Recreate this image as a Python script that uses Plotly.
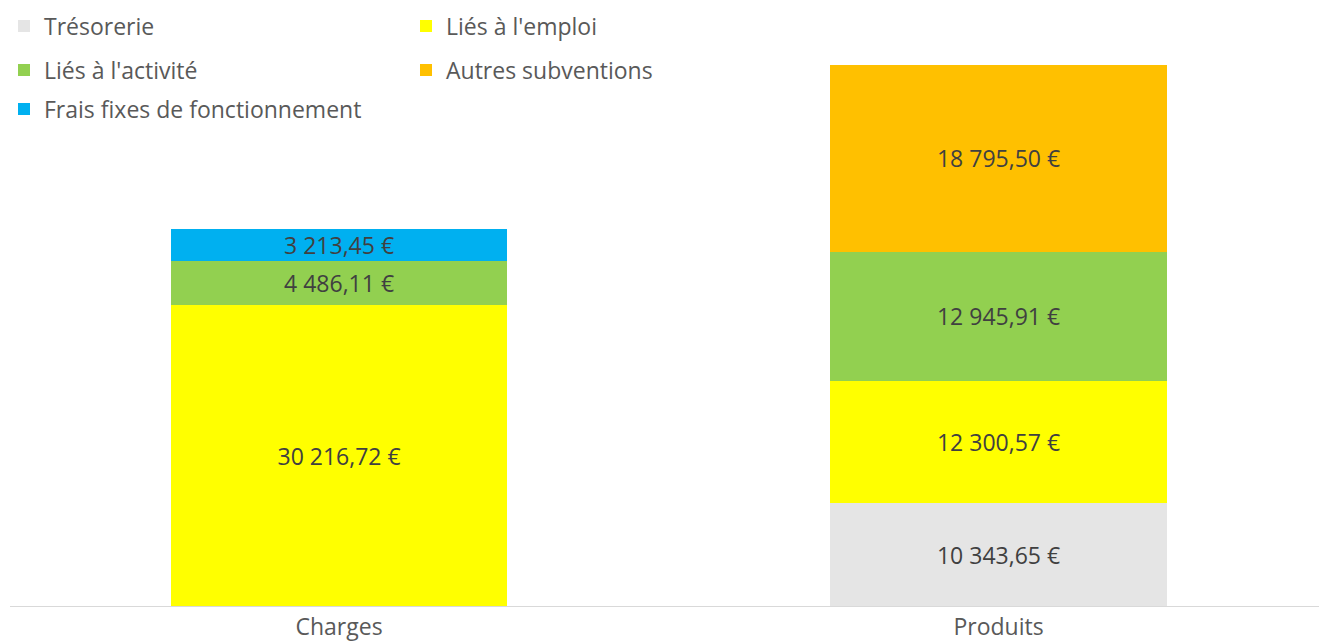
import plotly.graph_objects as go

categories = ["Charges", "Produits"]
series_names = ["Trésorerie", "Liés à l'emploi", "Liés à l'activité",
                "Autres subventions", "Frais fixes de fonctionnement"]
tresorerie = [0, 10343.65]
lies_emploi = [30216.72, 12300.57]
lies_activite = [4486.11, 12945.91]
autres_subventions = [0, 18795.50]
frais_fixes = [3213.45, 0]
colors = ["#e5e5e5", "#ffff00", "#92d050", "#ffc000", "#00b0f0"]

series_values = [tresorerie, lies_emploi, lies_activite, autres_subventions, frais_fixes]
legend_ids = ["legend", "legend", "legend2", "legend2", "legend3"]


def fmt_eur(v):
    s = f"{v:,.2f}"
    s = s.replace(",", " ").replace(".", ",")
    return s + " €"


FONT = "Open Sans"
fig = go.Figure()
for name, vals, col, lg in zip(series_names, series_values, colors, legend_ids):
    fig.add_trace(go.Bar(
        name=name,
        x=categories,
        y=vals,
        marker=dict(color=col, line=dict(width=0)),
        text=[fmt_eur(v) if v else "" for v in vals],
        textposition="inside",
        insidetextanchor="middle",
        textangle=0,
        textfont=dict(family=FONT, size=23, color="#404040"),
        legend=lg,
        hoverinfo="skip",
    ))

totals = [sum(s[i] for s in series_values) for i in range(len(categories))]

leg_common = dict(
    orientation="h",
    xref="container", yref="container",
    xanchor="left", yanchor="middle",
    font=dict(family=FONT, size=23, color="#595959"),
    entrywidth=357,
    bgcolor="rgba(0,0,0,0)",
    itemclick=False, itemdoubleclick=False,
    traceorder="normal",
)

fig.update_layout(
    width=1319, height=641,
    margin=dict(l=10, r=0, t=65, b=35, autoexpand=False),
    paper_bgcolor="white", plot_bgcolor="white",
    barmode="stack",
    bargap=0.49,
    uniformtext=dict(mode="show", minsize=23),
    xaxis=dict(
        type="category",
        range=[-0.499, 1.486],
        showline=True, linecolor="#d9d9d9", linewidth=1,
        ticks="", showgrid=False, zeroline=False,
        tickfont=dict(family=FONT, size=23, color="#595959"),
        fixedrange=True,
    ),
    yaxis=dict(
        range=[0, max(totals)],
        visible=False, showgrid=False, zeroline=False,
        fixedrange=True,
    ),
    legend=dict(x=4 / 1319, y=1 - 26 / 641, **leg_common),
    legend2=dict(x=4 / 1319, y=1 - 70 / 641, **leg_common),
    legend3=dict(x=4 / 1319, y=1 - 109 / 641, **leg_common),
    showlegend=True,
)

fig.write_html(
    "out.html",
    config={"displayModeBar": False},
    post_script="document.body.style.margin='0';document.body.style.overflow='hidden';",
)
